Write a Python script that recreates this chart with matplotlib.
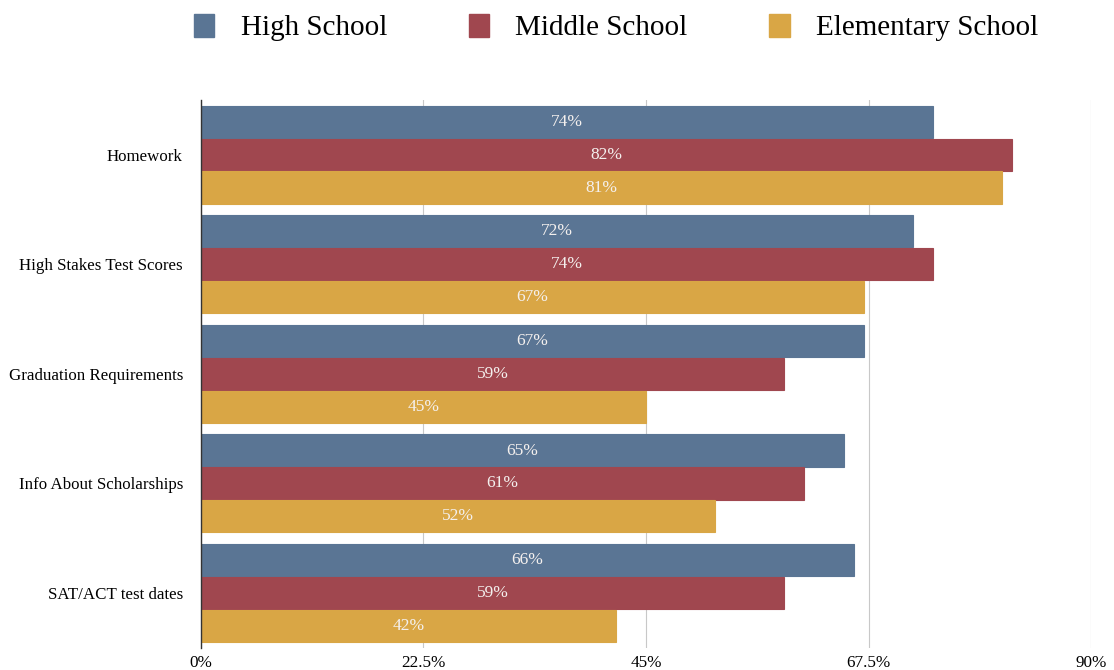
import matplotlib.pyplot as plt
import numpy as np
from matplotlib.patches import Patch

plt.rcParams['font.family'] = ['Liberation Serif', 'DejaVu Serif']

categories = ['Homework', 'High Stakes Test Scores', 'Graduation Requirements',
              'Info About Scholarships', 'SAT/ACT test dates']
series = ['High School', 'Middle School', 'Elementary School']
high = [74, 72, 67, 65, 66]
middle = [82, 74, 59, 61, 59]
elementary = [81, 67, 45, 52, 42]
colors = ['#5a7594', '#a0474f', '#d9a645']
xticks = [0, 22.5, 45, 67.5, 90]
xtick_labels = ['0%', '22.5%', '45%', '67.5%', '90%']

fig = plt.figure(figsize=(11.14, 6.70), dpi=100)
ax = fig.add_axes([0.1804, 0.033, 0.799, 0.818])

y = np.arange(len(categories))
h = 0.3
for i, (vals, c) in enumerate(zip([high, middle, elementary], colors)):
    pos = y - h + i * h
    ax.barh(pos, vals, height=h * 0.98, color=c, edgecolor=c, linewidth=0.8, zorder=2)
    for p, v in zip(pos, vals):
        ax.text(v / 2, p, f'{v}%', ha='center', va='center', color='#f4f0ee',
                fontsize=12.5, zorder=3)

ax.set_xlim(0, 90)
ax.set_ylim(len(categories) - 0.5, -0.5)
ax.set_xticks(xticks)
ax.set_xticklabels(xtick_labels, fontsize=12.3)
ax.set_yticks(y)
ax.set_yticklabels(categories, fontsize=12.2)
ax.tick_params(length=0)
ax.tick_params(axis='y', pad=13)
ax.tick_params(axis='x', pad=5)
ax.xaxis.grid(True, color='#c8c8c8', linewidth=0.8, zorder=0)
ax.set_axisbelow(True)
for s in ['top', 'right', 'bottom']:
    ax.spines[s].set_visible(False)
ax.spines['left'].set_color('#333333')
ax.spines['left'].set_linewidth(1.0)

handles = [Patch(facecolor=c, edgecolor=c) for c in colors]
fig.legend(handles, series, loc='upper center', bbox_to_anchor=(0.553, 1.018),
           ncol=3, frameon=False, fontsize=21, handlelength=0.7, handleheight=0.8,
           columnspacing=2.8, handletextpad=0.9)

fig.savefig('out.png', dpi=100)
